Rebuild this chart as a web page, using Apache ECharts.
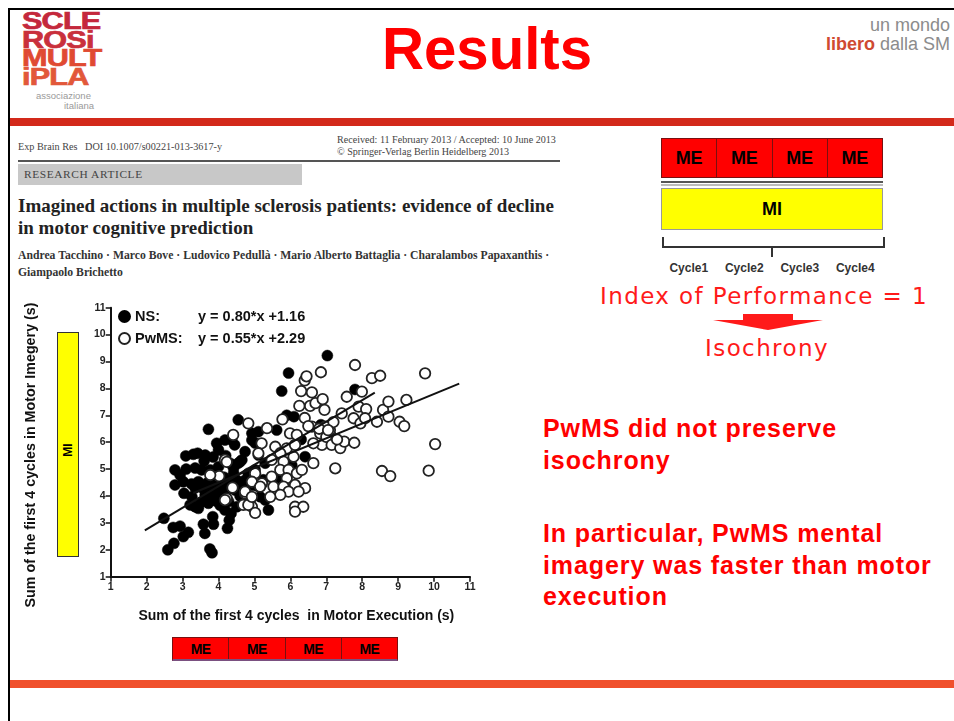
<!DOCTYPE html>
<html>
<head>
<meta charset="utf-8">
<script src="https://cdn.jsdelivr.net/npm/echarts@6/dist/echarts.min.js"></script>
<style>
  html, body { margin: 0; padding: 0; background: #fff; }
  body { width: 954px; height: 721px; position: relative; overflow: hidden; font-family: 'Liberation Sans', Arial, sans-serif; }
  .abs { position: absolute; }
  .frame { left: 8px; top: 8px; width: 946px; height: 713px; border-left: 2px solid #000; border-top: 2px solid #000; box-sizing: border-box; }
  .bar-top { left: 10px; right: 0; top: 118px; height: 8px; background: #d3291a; }
  .bar-bottom { left: 10px; right: 0; top: 680px; height: 8px; background: #f0502c; }
  .title { left: 0; width: 974px; top: 14px; text-align: center; font: bold 60px 'Liberation Sans', Arial, sans-serif; color: #ff0000; transform: scaleX(0.97); }
  .logo { left: 22px; top: 12px; font: bold 23px 'Liberation Sans', Arial, sans-serif; line-height: 18.5px; transform: scaleX(1.33); transform-origin: left top; letter-spacing: -0.6px; -webkit-text-stroke: 0.7px currentColor; }
  .logo-sub { font: 9.5px 'Liberation Sans', Arial, sans-serif; color: #9a9a9a; }
  .motto { right: 4px; top: 16px; text-align: right; font: 18px 'Liberation Sans', Arial, sans-serif; color: #8c8c8c; line-height: 19px; }
  .serif { font-family: 'Liberation Serif', 'DejaVu Serif', serif; }
  .cells { display: flex; box-sizing: border-box; }
  .cells div { flex: 1; display: flex; align-items: center; justify-content: center; background: #ff0000; border-right: 1px solid #7a1010; font-weight: bold; color: #000; }
  .cells div:last-child { border-right: none; }
  .red-text { left: 543px; font: bold 25px 'Liberation Sans', Arial, sans-serif; color: #ff0000; line-height: 31.5px; letter-spacing: 0.9px; }
  .ip { font-family: 'DejaVu Sans', Verdana, sans-serif; color: #ff1a1a; font-size: 23px; text-align: center; letter-spacing: 1.4px; }
  #main { position: absolute; left: 0; top: 0; width: 954px; height: 721px; }
</style>
</head>
<body>
<div class="abs frame"></div>
<div class="abs bar-top"></div>
<div class="abs bar-bottom"></div>

<div class="abs logo">
  <div style="color:#c4283c">SCLE</div>
  <div style="color:#c9303c">ROSi</div>
  <div style="color:#e04a32">MULT</div>
  <div style="color:#e2583a">iPLA</div>
</div>
<div class="abs logo-sub" style="left:36px;top:90px">associazione</div>
<div class="abs logo-sub" style="left:64px;top:100px">italiana</div>

<div class="abs title">Results</div>
<div class="abs motto">un mondo<br><b style="color:#cf4a32">libero</b> dalla SM</div>

<!-- article header -->
<div class="abs serif" style="left:18px;top:141px;font-size:10.2px;color:#444">Exp Brain Res&nbsp;&nbsp;&nbsp;DOI 10.1007/s00221-013-3617-y</div>
<div class="abs serif" style="left:337px;top:134px;font-size:10.1px;color:#444;line-height:12px">Received: 11 February 2013 / Accepted: 10 June 2013<br>© Springer-Verlag Berlin Heidelberg 2013</div>
<div class="abs" style="left:18px;top:160px;width:542px;height:2px;background:#555"></div>
<div class="abs serif" style="left:18px;top:164px;width:284px;height:21px;background:#c8c8c8;color:#444;font-size:11.4px;line-height:21px;letter-spacing:0.6px;padding-left:6px;box-sizing:border-box">RESEARCH ARTICLE</div>
<div class="abs serif" style="left:18px;top:195px;font-size:19px;font-weight:bold;color:#222;line-height:22px">Imagined actions in multiple sclerosis patients: evidence of decline<br>in motor cognitive prediction</div>
<div class="abs serif" style="left:18px;top:247px;font-size:11.7px;font-weight:bold;color:#333;line-height:17px">Andrea Tacchino · Marco Bove · Ludovico Pedullà · Mario Alberto Battaglia · Charalambos Papaxanthis ·<br>Giampaolo Brichetto</div>

<!-- right diagram -->
<div class="abs cells" style="left:661px;top:138px;width:222px;height:40px;border:1px solid #7a1010;font-size:18px">
  <div>ME</div><div>ME</div><div>ME</div><div>ME</div>
</div>
<div class="abs" style="left:661px;top:181px;width:222px;height:2px;background:#555"></div>
<div class="abs" style="left:661px;top:184px;width:222px;height:2px;background:#bbb"></div>
<div class="abs" style="left:661px;top:188px;width:222px;height:42px;background:#ffff00;border:1px solid #999;box-sizing:border-box;display:flex;align-items:center;justify-content:center;font-weight:bold;font-size:18px">MI</div>
<div class="abs" style="left:662px;top:237px;width:219px;height:9px;border:2px solid #333;border-top:none"></div>
<div class="abs" style="left:771px;top:246px;width:2px;height:11px;background:#333"></div>
<div class="abs" style="left:661px;top:261px;width:222px;display:flex;font-weight:bold;font-size:12px;color:#333">
  <div style="flex:1;text-align:center">Cycle1</div><div style="flex:1;text-align:center">Cycle2</div><div style="flex:1;text-align:center">Cycle3</div><div style="flex:1;text-align:center">Cycle4</div>
</div>
<div class="abs ip" style="left:580px;width:368px;top:283px">Index of Performance = 1</div>
<div class="abs" style="left:743px;top:314px;width:50px;height:6px;background:#ff1a1a"></div>
<div class="abs" style="left:713px;top:320px;width:0;height:0;border-left:55px solid transparent;border-right:55px solid transparent;border-top:10px solid #ff1a1a"></div>
<div class="abs ip" style="left:667px;width:200px;top:335px">Isochrony</div>

<div class="abs red-text" style="top:413px">PwMS did not preserve<br>isochrony</div>
<div class="abs red-text" style="top:518px">In particular, PwMS mental<br>imagery was faster than motor<br>execution</div>

<!-- MI and ME strips next to the scatter -->
<div class="abs" style="left:57px;top:332px;width:22px;height:225px;background:#ffff00;border:1px solid #333;box-sizing:border-box"></div>
<div class="abs" style="left:50px;top:442px;width:36px;text-align:center;transform:rotate(-90deg);font-weight:bold;font-size:12px;line-height:16px">MI</div>
<div class="abs cells" style="left:172px;top:637px;width:226px;height:24px;border:1px solid #7a1010;border-bottom:2px solid #7a5080;font-size:14px;letter-spacing:-0.5px">
  <div>ME</div><div>ME</div><div>ME</div><div>ME</div>
</div>

<div id="main"></div>
<script>
// scatter data: [motor execution (s), motor imagery (s)]
const nsPoints = [
  [2.48, 3.17], [2.59, 2.0], [2.76, 2.24], [2.74, 2.83], [2.93, 2.88], [3.02, 2.49], [3.16, 2.65],
  [2.79, 4.97], [2.93, 4.78], [2.79, 4.41], [3.02, 4.53], [3.04, 4.1], [3.09, 5.49], [3.42, 5.59],
  [3.63, 5.52], [3.35, 5.04], [3.53, 4.97], [3.77, 4.97], [4.0, 5.09], [3.44, 4.53], [3.26, 3.97],
  [3.21, 3.67], [3.44, 3.54], [3.72, 3.73], [3.86, 4.22], [4.04, 3.97], [3.77, 4.35], [3.63, 4.04],
  [4.09, 4.47], [4.23, 4.22], [4.37, 4.59], [4.55, 5.22], [4.65, 5.34], [4.42, 5.03], [4.83, 4.84],
  [4.51, 3.6], [4.18, 3.48], [4.93, 6.33], [5.02, 5.97], [5.11, 5.52], [3.58, 2.95], [3.62, 2.61],
  [3.72, 6.48], [3.76, 2.03], [3.82, 1.89], [3.84, 3.23], [3.86, 2.95], [3.95, 5.96], [4.18, 6.08],
  [4.0, 5.71], [4.25, 2.8], [4.3, 3.1], [4.35, 3.35], [4.55, 6.83], [5.11, 6.39], [5.62, 6.45],
  [4.37, 6.08], [4.93, 6.08], [4.74, 5.65], [4.32, 5.22], [4.6, 5.27], [4.42, 4.84], [4.28, 4.47],
  [4.46, 4.22], [4.74, 4.59], [5.02, 4.97], [5.3, 5.22], [5.11, 4.35], [5.3, 3.85], [4.88, 3.85],
  [5.16, 3.97], [5.39, 3.48], [6.41, 5.46], [6.04, 5.15], [5.62, 4.66], [4.28, 3.8], [5.76, 7.9],
  [5.95, 8.57], [5.9, 7.0], [6.1, 6.95], [6.3, 6.1], [7.03, 9.22], [7.8, 7.96], [6.85, 6.65],
  [3.9, 4.1], [4.0, 4.3], [3.8, 4.05], [3.95, 3.8], [4.1, 4.1], [3.7, 4.5], [3.9, 4.6], [4.15, 4.7],
  [3.55, 4.3], [3.35, 4.3], [3.25, 4.45], [3.1, 5.0], [3.6, 5.3], [3.85, 5.45], [4.05, 3.65],
  [4.6, 4.0], [4.7, 4.4], [4.5, 4.6], [3.5, 3.75], [3.35, 3.6], [4.2, 5.5], [4.45, 5.9], [3.3, 5.55],
  [5.25, 4.6], [4.95, 4.4]
];
const pwmsPoints = [
  [4.39, 4.31], [4.41, 6.27], [4.18, 5.34], [4.02, 4.74], [4.23, 3.9], [4.83, 6.7], [5.35, 6.52],
  [5.2, 5.96], [5.58, 5.83], [5.9, 5.77], [6.13, 5.9], [5.99, 6.33], [6.18, 6.27], [6.6, 6.58],
  [6.83, 6.33], [6.97, 6.58], [7.11, 6.27], [6.88, 5.9], [6.64, 5.96], [5.11, 5.59], [5.72, 5.59],
  [5.48, 5.34], [5.81, 5.28], [6.09, 5.46], [6.64, 5.22], [7.25, 5.03], [5.02, 4.84], [4.93, 4.53],
  [5.21, 4.47], [5.48, 4.72], [5.72, 4.97], [5.95, 4.97], [5.9, 4.66], [6.18, 4.84], [6.32, 4.97],
  [5.53, 4.35], [5.81, 4.35], [6.13, 4.41], [6.41, 4.29], [5.95, 4.16], [6.23, 4.16], [5.72, 4.04],
  [5.44, 3.97], [4.74, 4.1], [4.93, 3.6], [4.69, 3.67], [6.13, 3.6], [6.36, 3.6], [6.13, 3.42],
  [4.23, 5.27], [3.77, 4.78], [4.74, 4.16], [4.18, 3.85], [4.83, 3.67], [5.16, 4.35], [4.93, 3.97],
  [5.02, 3.37], [5.78, 6.85], [6.25, 7.35], [6.3, 7.9], [6.4, 8.3], [6.45, 8.45], [6.4, 6.9],
  [6.55, 7.35], [6.6, 7.85], [6.7, 7.45], [6.5, 6.6], [6.85, 8.6], [6.9, 7.6], [6.95, 7.2],
  [6.8, 6.5], [7.0, 6.2], [7.1, 6.45], [7.15, 5.9], [7.39, 5.78], [7.5, 6.02], [7.43, 7.07],
  [7.2, 6.75], [7.57, 7.69], [7.8, 8.87], [7.76, 6.89], [7.78, 5.98], [7.9, 7.32], [7.99, 7.88],
  [7.95, 6.7], [8.11, 7.23], [8.08, 6.89], [8.27, 8.38], [8.5, 8.47], [8.41, 6.76], [8.58, 7.2],
  [8.55, 4.93], [8.78, 4.74], [8.73, 7.51], [8.73, 6.95], [9.04, 6.76], [9.17, 6.6], [9.23, 7.57],
  [9.75, 8.56], [9.85, 4.94], [10.03, 5.93], [7.3, 6.1], [7.05, 6.45]
];
// regression line end points as drawn in the figure
const nsFit = [[1.95, 2.72], [8.35, 7.84]];
const pwmsFit = [[3.3, 4.11], [10.7, 8.18]];
const seriesNames = ['NS', 'PwMS'];
const equations = { NS: 'y = 0.80*x +1.16', PwMS: 'y = 0.55*x +2.29' };

const chart = echarts.init(document.getElementById('main'), null, { renderer: 'canvas' });
const font = "'Liberation Sans', Arial, sans-serif";
const axisCommon = {
  type: 'value',
  min: 1,
  max: 11,
  interval: 1,
  splitLine: { show: false },
  axisLine: { show: true, lineStyle: { color: '#111', width: 2 } },
  axisTick: { show: true, length: 5, lineStyle: { color: '#111', width: 1.5 } },
  axisLabel: { color: '#222', fontWeight: 'bold', fontSize: 10.5, fontFamily: font, margin: 5 }
};

chart.setOption({
  animation: false,
  backgroundColor: 'transparent',
  grid: { left: 110.7, top: 307.7, width: 359.3, height: 269 },
  xAxis: Object.assign({}, axisCommon, {
    name: 'Sum of the first 4 cycles  in Motor Execution (s)',
    nameLocation: 'middle',
    nameGap: 32,
    nameTextStyle: { color: '#111', fontWeight: 'bold', fontSize: 14, fontFamily: font, padding: [0, 0, 0, 12] }
  }),
  yAxis: Object.assign({}, axisCommon),
  legend: {
    data: seriesNames,
    orient: 'vertical',
    left: 113,
    top: 304,
    itemGap: 7,
    itemWidth: 11,
    itemHeight: 11,
    icon: 'circle',
    formatter: name => `{n|${name}:}{e|${equations[name]}}`,
    textStyle: {
      color: '#111',
      rich: {
        n: { width: 63, fontWeight: 'bold', fontSize: 14.5, fontFamily: font, color: '#111' },
        e: { fontWeight: 'bold', fontSize: 14.5, fontFamily: font, color: '#111' }
      }
    }
  },
  graphic: [{
    type: 'text',
    x: 31,
    y: 455,
    rotation: Math.PI / 2,
    style: {
      text: 'Sum of the first 4 cycles in Motor Imegery (s)',
      align: 'center',
      verticalAlign: 'middle',
      fill: '#111',
      font: "bold 14.3px 'Liberation Sans', Arial, sans-serif"
    }
  }],
  series: [
    {
      name: 'NS',
      type: 'scatter',
      data: nsPoints,
      symbol: 'circle',
      symbolSize: 11,
      itemStyle: { color: '#000', borderColor: '#000', borderWidth: 0.5, opacity: 1 },
      z: 2
    },
    {
      name: 'PwMS',
      type: 'scatter',
      data: pwmsPoints,
      symbol: 'circle',
      symbolSize: 10.5,
      itemStyle: { color: '#fff', borderColor: '#222', borderWidth: 1.8, opacity: 1 },
      z: 3
    },
    {
      name: 'NS fit',
      type: 'line',
      data: nsFit,
      symbol: 'none',
      lineStyle: { color: '#111', width: 2 },
      z: 4
    },
    {
      name: 'PwMS fit',
      type: 'line',
      data: pwmsFit,
      symbol: 'none',
      lineStyle: { color: '#111', width: 2 },
      z: 4
    }
  ]
});
</script>
</body>
</html>
